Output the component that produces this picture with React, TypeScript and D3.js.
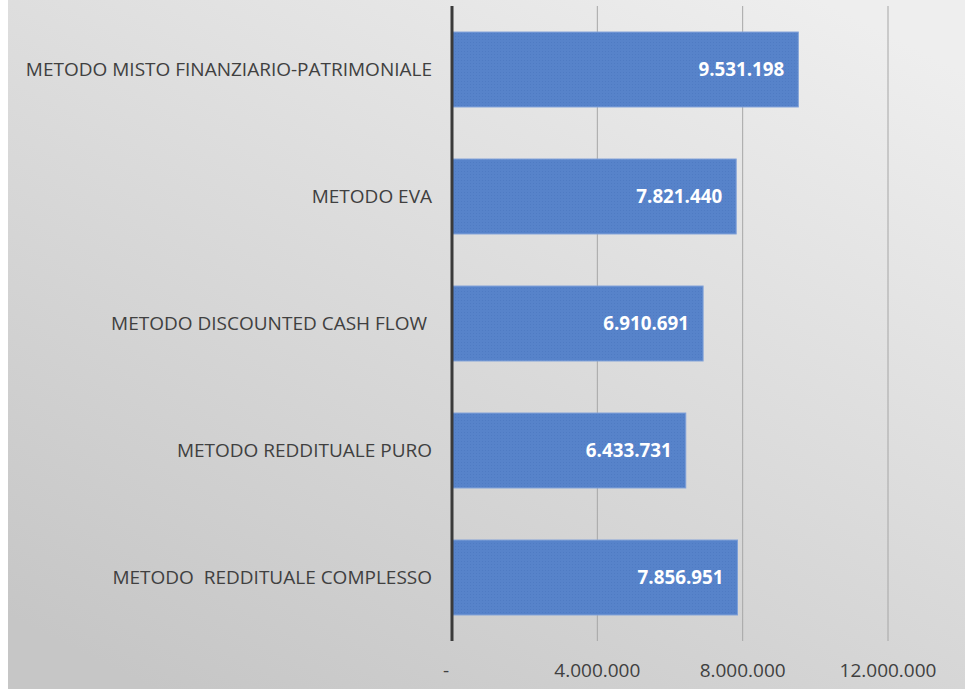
import React from "react";
import * as d3 from "d3";

const categories = [
  "METODO MISTO FINANZIARIO-PATRIMONIALE",
  "METODO EVA",
  "METODO DISCOUNTED CASH FLOW ",
  "METODO REDDITUALE PURO",
  "METODO  REDDITUALE COMPLESSO",
];
const values = [9531198, 7821440, 6910691, 6433731, 7856951];
const ticks = [0, 4000000, 8000000, 12000000];

const W = 957;
const H = 689;
const OX = 8; // svg left offset in page
const x0 = 452 - OX;
const xMax = 888 - OX;
const top = 6;
const bottom = 641;

const locale = d3.formatLocale({ decimal: ",", thousands: ".", grouping: [3], currency: ["€", ""] });
const fmt = locale.format(",d");

export default function App() {
  const x = d3.scaleLinear().domain([0, 12000000]).range([x0, xMax]);
  const y = d3.scaleBand<string>().domain(categories).range([top, bottom]).paddingInner(0.41).paddingOuter(0.205);
  const font = "'Open Sans', 'Liberation Sans', sans-serif";
  return (
    <svg width={W} height={H} style={{ position: "absolute", left: OX, top: 0, display: "block" }}>
      <defs>
        <linearGradient id="bg" x1="0.85" y1="0" x2="0.15" y2="1">
          <stop offset="0" stopColor="#eeeeee" />
          <stop offset="1" stopColor="#c6c6c6" />
        </linearGradient>
        <pattern id="tex" width="3" height="3" patternUnits="userSpaceOnUse">
          <rect width="3" height="3" fill="#5783ca" />
          <rect width="1" height="1" fill="#4f7bc3" />
        </pattern>
      </defs>
      <rect x={0} y={0} width={W} height={H} fill="url(#bg)" />
      {ticks.slice(1).map((t) => (
        <line key={t} x1={x(t)} x2={x(t)} y1={top} y2={bottom} stroke="#a6a6a6" strokeWidth={1} />
      ))}
      {categories.map((c, i) => (
        <g key={c}>
          <rect x={x(0)} y={y(c)} width={x(values[i]) - x(0)} height={y.bandwidth()} fill="url(#tex)" stroke="#7fa0d8" strokeWidth={1} />
          <text x={x(values[i]) - 14} y={(y(c) as number) + y.bandwidth() / 2} dy="0.35em" textAnchor="end" fill="#ffffff" fontWeight="bold" fontSize={18.8} fontFamily={font}>
            {fmt(values[i])}
          </text>
          <text x={432 - OX} y={(y(c) as number) + y.bandwidth() / 2} dy="0.35em" textAnchor="end" fill="#404040" fontSize={19} fontFamily={font} style={{ whiteSpace: "pre" }}>
            {c}
          </text>
        </g>
      ))}
      <line x1={x(0)} x2={x(0)} y1={top} y2={bottom} stroke="#3a3a3a" strokeWidth={3} />
      {ticks.map((t) => (
        <text key={t} x={t === 0 ? x(0) - 6 : x(t)} y={670} dy="0.35em" textAnchor="middle" fill="#404040" fontSize={19} fontFamily={font}>
          {t === 0 ? "-" : fmt(t)}
        </text>
      ))}
    </svg>
  );
}
